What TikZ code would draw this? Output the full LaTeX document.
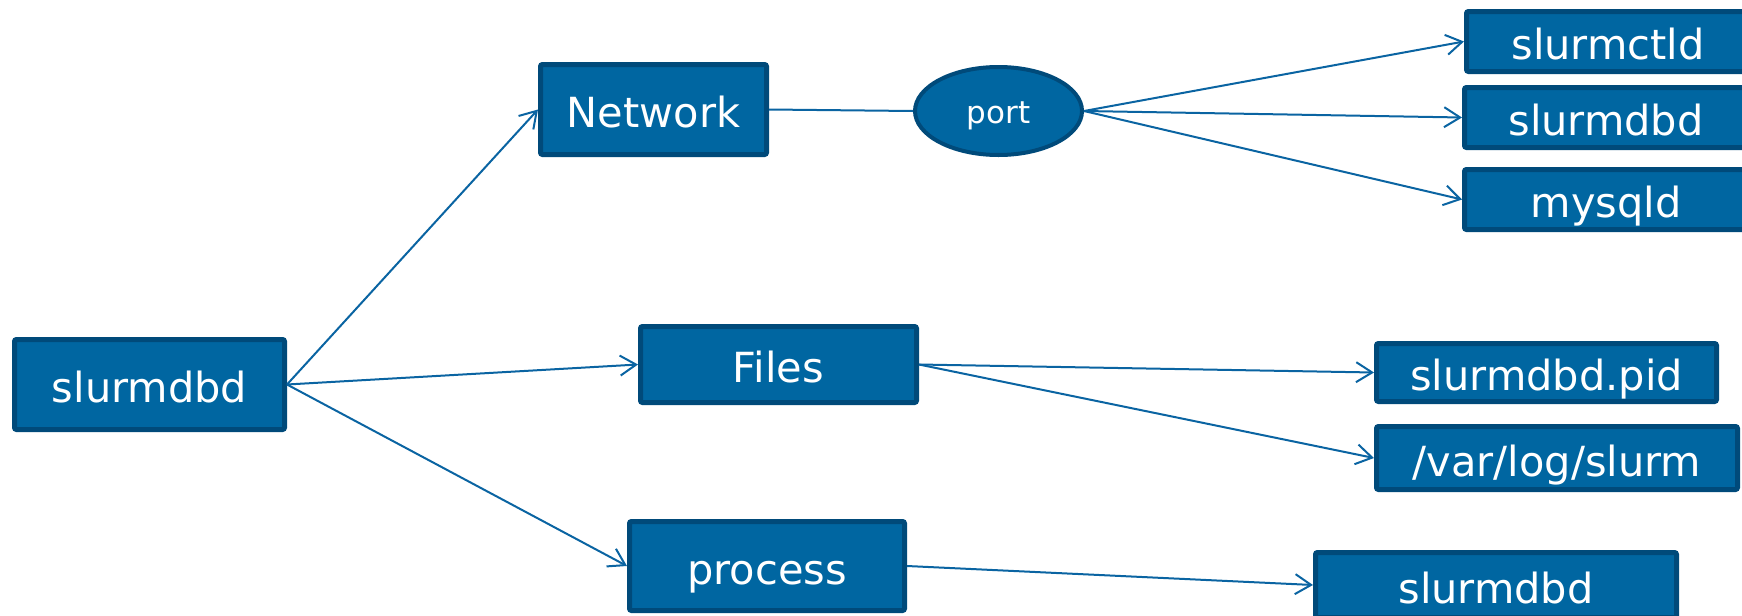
\documentclass[tikz,border=0pt]{standalone}
\usepackage{fontspec}
\setmainfont{DejaVu Sans}
\usetikzlibrary{arrows.meta,shapes.geometric}
\definecolor{boxfill}{RGB}{0,102,161}
\definecolor{boxline}{RGB}{0,74,122}
\definecolor{conn}{RGB}{10,100,162}
\tikzset{
  box/.style={draw=boxline, fill=boxfill, line width=2.5pt, rounded corners=1pt,
    text=white, inner sep=0pt, font=\fontsize{20.75pt}{24pt}\selectfont,
    text height=18pt, text depth=0pt, align=center},
  oval/.style={ellipse, draw=boxline, fill=boxfill, line width=2pt,
    text=white, inner sep=0pt, font=\fontsize{15.5pt}{18pt}\selectfont,
    text height=12pt, text depth=0pt},
  conline/.style={draw=conn, line width=1pt},
  arr/.style={conline, -{Straight Barb[length=8pt, width=10pt, line width=1pt]}}
}
\begin{document}
\begin{tikzpicture}[x=0.5pt, y=-0.5pt]
\useasboundingbox (0,0) rectangle (1742,616);
\node[box, minimum width=135pt, minimum height=45pt] (root) at (149.5,384.5) {slurmdbd};
\node[box, minimum width=113pt, minimum height=45pt] (net) at (653.5,109.5) {Network};
\node[oval, minimum width=83.5pt, minimum height=44pt] (port) at (998.5,111) {port};
\node[box, minimum width=141.5pt, minimum height=30pt] (ctld) at (1608,41.5) {slurmctld};
\node[box, minimum width=141.5pt, minimum height=30pt] (dbd2) at (1606,117.5) {slurmdbd};
\node[box, minimum width=141.5pt, minimum height=30pt] (mysql) at (1606,199.5) {mysqld};
\node[box, minimum width=138pt, minimum height=38pt] (files) at (778.5,364.5) {Files};
\node[box, minimum width=137.5pt, minimum height=44.5pt] (proc) at (767,566) {process};
\node[box, minimum width=170pt, minimum height=29pt] (pid) at (1546.5,372.5) {slurmdbd.pid};
\node[box, minimum width=180.5pt, minimum height=31.5pt] (log) at (1557,458) {/var/log/slurm};
\node[box, minimum width=180.5pt, minimum height=32.5pt] (dbd3) at (1496,585) {slurmdbd};
\draw[arr] (root.east) -- (net.west);
\draw[arr] (root.east) -- (files.west);
\draw[arr] (root.east) -- (proc.west);
\draw[conline] (net.east) -- (port.west);
\draw[arr] (port.east) -- (ctld.west);
\draw[arr] (port.east) -- (dbd2.west);
\draw[arr] (port.east) -- (mysql.west);
\draw[arr] (files.east) -- (pid.west);
\draw[arr] (files.east) -- (log.west);
\draw[arr] (proc.east) -- (dbd3.west);
\end{tikzpicture}
\end{document}
